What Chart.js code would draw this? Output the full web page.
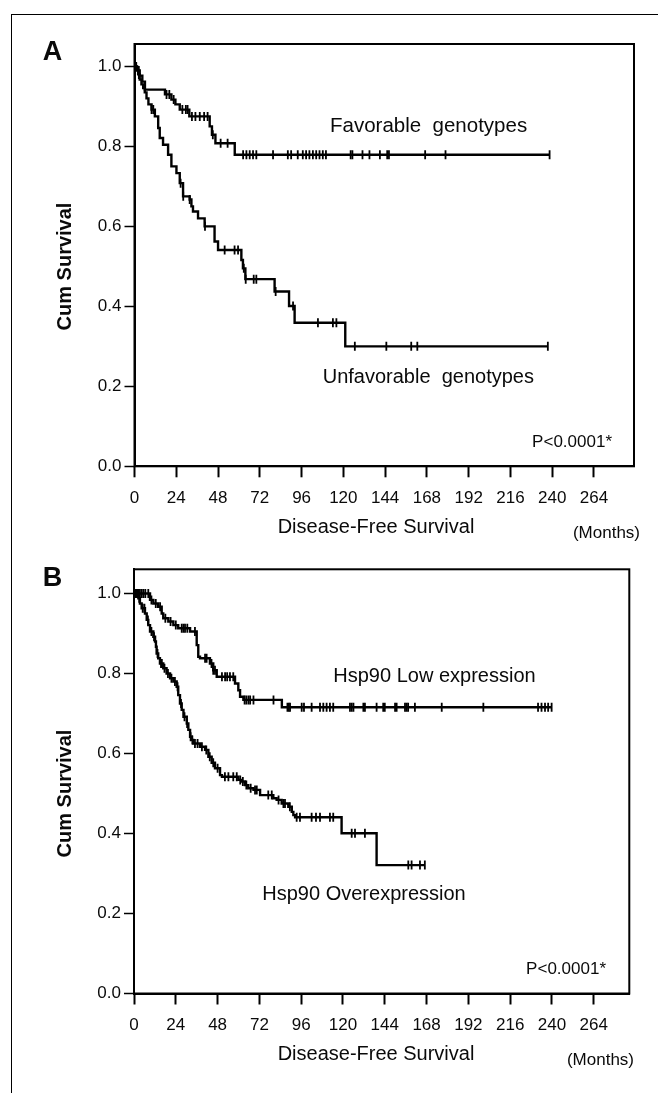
<!DOCTYPE html>
<html><head><meta charset="utf-8">
<script src="https://cdn.jsdelivr.net/npm/chart.js@4.4.1/dist/chart.umd.min.js"></script>
<style>
html,body{margin:0;padding:0;background:#fff;}
#wrap{position:relative;width:658px;height:1093px;overflow:hidden;background:#fff;}
#frame{position:absolute;left:11px;top:14px;width:700px;height:1200px;border-left:1.5px solid #000;border-top:1.5px solid #000;}
canvas{position:absolute;left:0;}
#cA{top:0;width:658px;height:546px;}
#cB{top:546px;width:658px;height:547px;}
</style></head><body>
<div id="wrap"><div id="frame"></div>
<canvas id="cA" width="658" height="546"></canvas>
<canvas id="cB" width="658" height="547"></canvas>
</div>
<script>
// ---- data (months, cumulative survival) ----
const xTicks = [0, 24, 48, 72, 96, 120, 144, 168, 192, 216, 240, 264];
const yTicks = [0, 0.2, 0.4, 0.6, 0.8, 1.0];

// Panel A
const favTime = [0, 1.5, 3, 4.5, 6, 17.5, 21.2, 23.5, 26, 31.5, 43.2, 44.5, 46.5, 57.6];
const favSurv = [1, 0.99, 0.977, 0.962, 0.942, 0.93, 0.917, 0.905, 0.892, 0.875, 0.85, 0.829, 0.808, 0.779];
const favCensor = [1, 2.5, 18.4, 20, 22.5, 27.5, 29.5, 30.5, 33, 35, 37.5, 40, 42, 45, 49.5, 53.5, 62.4, 64.3, 66.2, 68.1, 70, 79.6, 88.1, 90, 93.8, 96.7, 98.6, 100.5, 102.5, 104.4, 106.3, 108.2, 110, 124.2, 125.2, 131, 135, 141, 145.2, 146.2, 167, 178.7, 238.5];

const unfTime = [0, 1.2, 2.1, 3, 4, 5, 5.9, 6.9, 8, 9.8, 11.7, 13.6, 14.5, 16.4, 19.3, 21.2, 24.1, 26, 27.9, 31.7, 32.7, 33.6, 36.5, 40.3, 46, 48, 61.4, 62.3, 63.7, 80.5, 88.8, 92, 121.1];
const unfSurv = [1, 0.99, 0.98, 0.967, 0.955, 0.946, 0.935, 0.92, 0.905, 0.892, 0.875, 0.846, 0.821, 0.804, 0.779, 0.75, 0.733, 0.708, 0.675, 0.667, 0.65, 0.637, 0.62, 0.6, 0.562, 0.541, 0.516, 0.495, 0.468, 0.437, 0.401, 0.359, 0.30];
const unfCensor = [0.8, 2.5, 9.8, 10.8, 26.5, 28, 31.7, 40.5, 51.8, 57.5, 59.5, 62.8, 63.9, 68.5, 70, 81.1, 91.1, 105.4, 114, 116, 126.6, 144.7, 159, 162.5, 237.5];

// Panel B
const lowTime = [0, 9.2, 11.1, 13.9, 15.9, 16.8, 19.7, 22.6, 25.4, 32.2, 36, 36.9, 37.9, 43.6, 45.5, 47.5, 58, 59.9, 60.9, 62.8, 84.9];
const lowSurv = [1, 0.984, 0.975, 0.967, 0.95, 0.938, 0.93, 0.921, 0.913, 0.905, 0.871, 0.842, 0.838, 0.825, 0.808, 0.792, 0.775, 0.758, 0.742, 0.734, 0.7155];
const lowCensor = [1, 2, 2.6, 3.4, 4.4, 5.4, 6.5, 8.2, 10, 12.5, 15, 18, 21, 24, 27.4, 28.4, 29.3, 30.6, 35, 40.8, 41.7, 44.5, 45.5, 46.5, 50.5, 52.3, 53.5, 55.1, 57, 63.5, 64.5, 65.7, 66.7, 68.6, 80.1, 88.1, 88.9, 89.6, 96.3, 97.6, 102, 106.8, 108.7, 110.6, 112.5, 114.4, 124, 125, 126, 131.7, 132.6, 139.3, 143.1, 144, 149.9, 150.8, 155.6, 156.5, 157.4, 161.3, 176.7, 200.6, 232, 234, 236, 237.8, 239.8];

const overTime = [0, 2.5, 3.4, 4.4, 6.3, 7.3, 8.2, 9.2, 11.1, 12.1, 12.6, 13, 13.9, 14.9, 16.8, 18.7, 20.7, 22.6, 24.5, 25.4, 26.4, 27.4, 28.4, 30.3, 31.2, 32.2, 33.2, 34.1, 37.9, 40.8, 42.7, 44.6, 46.5, 49.4, 50.5, 59.9, 61.8, 63.7, 65.6, 68.6, 72.4, 80, 81.9, 84.8, 88.6, 90.6, 91.5, 92.5, 119.2, 139.3];
const overSurv = [1, 0.988, 0.975, 0.963, 0.95, 0.934, 0.921, 0.905, 0.892, 0.88, 0.867, 0.85, 0.838, 0.825, 0.813, 0.8, 0.788, 0.78, 0.767, 0.746, 0.725, 0.709, 0.692, 0.675, 0.659, 0.642, 0.634, 0.625, 0.617, 0.609, 0.592, 0.577, 0.563, 0.546, 0.542, 0.534, 0.53, 0.521, 0.513, 0.509, 0.496, 0.488, 0.484, 0.475, 0.467, 0.454, 0.446, 0.4405, 0.4005, 0.321];
const overCensor = [1.5, 2, 3, 5, 6, 8, 10, 11.5, 13.5, 15.5, 16, 17.5, 19.5, 21.5, 23.5, 25, 27, 29, 30.5, 32.5, 33.5, 35, 36.5, 39, 41.5, 43.5, 45.5, 48, 52.2, 54.2, 57, 59, 61, 62.5, 64.5, 67, 69.5, 70.5, 77.1, 79.1, 83, 85.8, 86.7, 89.5, 93.4, 95.3, 102, 104.5, 106.8, 112.5, 114.4, 125, 126.9, 132.6, 157.5, 159.4, 164.2, 167];

// ---- helpers ----
function survAt(times, surv, t) {
  let v = surv[0];
  for (let i = 0; i < times.length; i++) { if (times[i] <= t) v = surv[i]; }
  return v;
}
function curvePoints(times, surv, censor) {
  const pts = times.map((t, i) => ({x: t, y: surv[i]}));
  const end = Math.max(...censor);
  pts.push({x: end, y: surv[surv.length - 1]});
  return pts;
}
function censorPoints(times, surv, censor) {
  return censor.map(t => ({x: t, y: survAt(times, surv, t)}));
}

const FONT = '"Liberation Sans", Arial, Helvetica, sans-serif';
const INK = '#0a0a0a';

const boxPlugin = {
  id: 'boxBorder',
  afterDatasetsDraw(chart) {
    const {ctx, chartArea: a} = chart;
    ctx.save();
    ctx.strokeStyle = '#000';
    ctx.lineWidth = 2;
    ctx.strokeRect(a.left, a.top, a.right - a.left, a.bottom - a.top);
    ctx.restore();
  }
};
const textPlugin = {
  id: 'panelText',
  afterDraw(chart, args, opts) {
    const ctx = chart.ctx;
    ctx.save();
    ctx.fillStyle = INK;
    for (const it of opts.items) {
      ctx.font = (it.bold ? 'bold ' : '') + it.size + 'px ' + FONT;
      ctx.textAlign = it.align || 'left';
      ctx.textBaseline = it.baseline || 'alphabetic';
      if (it.rotate) {
        ctx.save(); ctx.translate(it.x, it.y); ctx.rotate(-Math.PI / 2);
        ctx.fillText(it.text, 0, 0); ctx.restore();
      } else {
        ctx.fillText(it.text, it.x, it.y);
      }
    }
    ctx.restore();
  }
};

function makeChart(canvas, o) {
  const datasets = [];
  o.series.forEach(s => {
    datasets.push({
      type: 'line', data: curvePoints(s.t, s.s, s.c), stepped: 'before',
      borderColor: '#000', borderWidth: 2.4, pointRadius: 0, fill: false, tension: 0
    });
    datasets.push({
      type: 'scatter', data: censorPoints(s.t, s.s, s.c), showLine: false,
      pointStyle: 'line', rotation: 90, pointRadius: 4.5, pointHoverRadius: 4.5,
      borderColor: '#000', pointBorderColor: '#000', pointBorderWidth: 1.8, borderWidth: 1.8
    });
  });
  return new Chart(canvas, {
    type: 'line',
    data: {datasets},
    plugins: [boxPlugin, textPlugin],
    options: {
      responsive: false, animation: false, devicePixelRatio: 1,
      layout: {padding: {top: o.top, right: o.right, left: 0, bottom: 0}},
      plugins: {legend: {display: false}, tooltip: {enabled: false}, panelText: {items: o.texts}},
      scales: {
        x: {
          type: 'linear', min: 0, max: o.xMax,
          afterBuildTicks: sc => { sc.ticks = xTicks.map(v => ({value: v})); },
          afterFit: sc => { sc.height = o.xHeight; },
          grid: {display: true, drawOnChartArea: false, drawTicks: true, tickLength: 11, tickWidth: 2, tickColor: '#000', color: '#000'},
          border: {display: true, color: '#000', width: 2},
          ticks: {color: INK, font: {family: FONT, size: 17}, padding: 11, maxRotation: 0, autoSkip: false,
                  callback: v => String(v)}
        },
        y: {
          type: 'linear', min: 0, max: o.yMax,
          afterBuildTicks: sc => { sc.ticks = yTicks.map(v => ({value: v})); },
          afterFit: sc => { sc.width = o.left; },
          grid: {display: true, drawOnChartArea: false, drawTicks: true, tickLength: 10, tickWidth: 1.5, tickColor: '#000', color: '#000'},
          border: {display: true, color: '#000', width: 2},
          ticks: {color: INK, font: {family: FONT, size: 17}, padding: 3, callback: v => v.toFixed(1)}
        }
      }
    }
  });
}

makeChart(document.getElementById('cA'), {
  top: 44, right: 24, left: 134.5, xHeight: 546 - 466.3, xMax: 287, yMax: 1.056,
  series: [{t: favTime, s: favSurv, c: favCensor}, {t: unfTime, s: unfSurv, c: unfCensor}],
  texts: [
    {text: 'A', x: 52.5, y: 53, size: 27, bold: true, align: 'center', baseline: 'middle'},
    {text: 'Cum Survival', x: 65.5, y: 266.5, size: 20, bold: true, align: 'center', baseline: 'middle', rotate: true},
    {text: 'Favorable  genotypes', x: 330, y: 131.7, size: 20.5},
    {text: 'Unfavorable  genotypes', x: 322.7, y: 383, size: 20},
    {text: 'P<0.0001*', x: 612, y: 442, size: 17, align: 'right', baseline: 'middle'},
    {text: 'Disease-Free Survival', x: 376, y: 527, size: 20, align: 'center', baseline: 'middle'},
    {text: '(Months)', x: 640, y: 533, size: 17, align: 'right', baseline: 'middle'}
  ]
});

makeChart(document.getElementById('cB'), {
  top: 23.3, right: 658 - 629.3, left: 134, xHeight: 547 - 447.5, xMax: 284.4, yMax: 1.0605,
  series: [{t: lowTime, s: lowSurv, c: lowCensor}, {t: overTime, s: overSurv, c: overCensor}],
  texts: [
    {text: 'B', x: 52.5, y: 32.5, size: 27, bold: true, align: 'center', baseline: 'middle'},
    {text: 'Cum Survival', x: 65.5, y: 247.5, size: 20, bold: true, align: 'center', baseline: 'middle', rotate: true},
    {text: 'Hsp90 Low expression', x: 333.3, y: 135.7, size: 20},
    {text: 'Hsp90 Overexpression', x: 262.3, y: 353.5, size: 20},
    {text: 'P<0.0001*', x: 606, y: 423, size: 17, align: 'right', baseline: 'middle'},
    {text: 'Disease-Free Survival', x: 376, y: 508.5, size: 20, align: 'center', baseline: 'middle'},
    {text: '(Months)', x: 634, y: 514, size: 17, align: 'right', baseline: 'middle'}
  ]
});
</script>
</body></html>
